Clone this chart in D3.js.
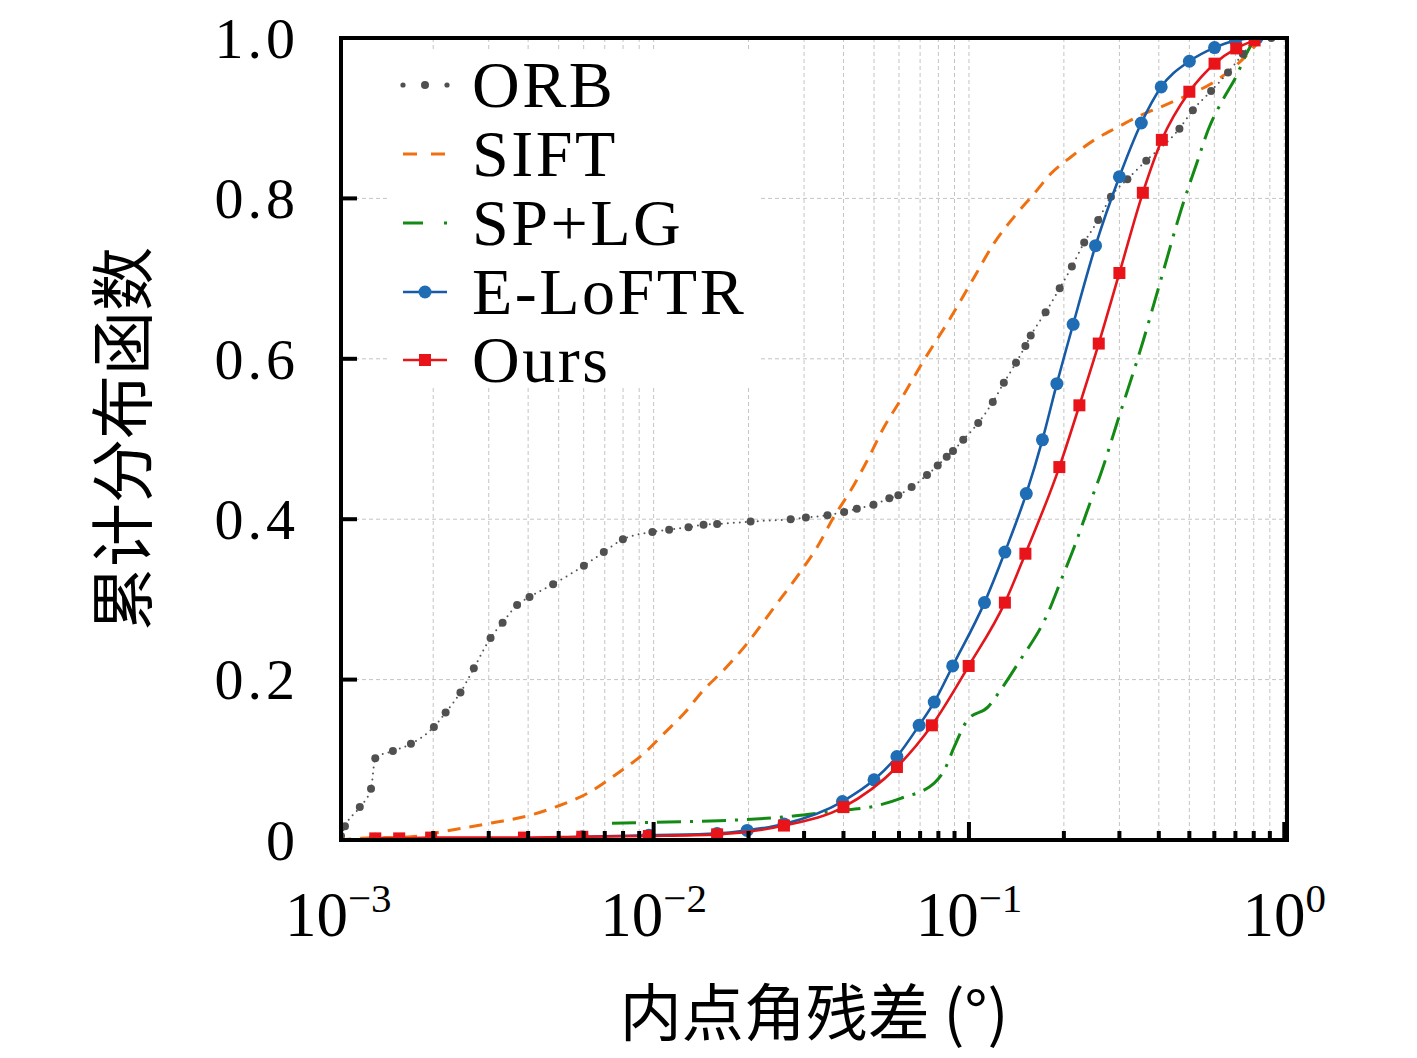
<!DOCTYPE html>
<html>
<head>
<meta charset="utf-8">
<script src="https://cdn.jsdelivr.net/npm/d3@7"></script>
<style>
  body { margin: 0; background: #fff; }
  .tick-label { font-family: "Liberation Serif", "DejaVu Serif", serif; fill: #000; }
  .cjk { font-family: "Noto Sans CJK SC", sans-serif; fill: #000; }
</style>
</head>
<body>
<script>
// series data: [inlier angle residual (deg), CDF]
var orb = [[0.00102,0.005],[0.00105,0.017],[0.00117,0.041],[0.00127,0.064],[0.00131,0.102],[0.00149,0.111],
  [0.00170,0.120],[0.00201,0.141],[0.00219,0.159],[0.00244,0.184],[0.00269,0.214],[0.00304,0.252],
  [0.00332,0.271],[0.00369,0.293],[0.00404,0.303],[0.00480,0.319],[0.00601,0.342],[0.00695,0.359],
  [0.00799,0.375],[0.00991,0.384],[0.0112,0.387],[0.0129,0.390],[0.0144,0.393],[0.0159,0.394],
  [0.0203,0.397],[0.0272,0.400],[0.0304,0.402],[0.0356,0.405],[0.0402,0.409],[0.0441,0.413],
  [0.0498,0.418],[0.0559,0.426],[0.0597,0.430],[0.0658,0.440],[0.0736,0.455],[0.0796,0.467],
  [0.0850,0.478],[0.0890,0.485],[0.0959,0.499],[0.107,0.520],[0.119,0.546],[0.129,0.570],
  [0.141,0.595],[0.151,0.616],[0.157,0.629],[0.175,0.658],[0.194,0.688],[0.212,0.715],
  [0.232,0.745],[0.257,0.773],[0.282,0.802],[0.318,0.824],[0.365,0.847],[0.465,0.887],
  [0.513,0.910],[0.586,0.934],[0.663,0.957],[0.739,0.980],[0.815,0.998],[0.91,1.0]];

var sift = [[0.00100,0.0],[0.00117,0.002],[0.00170,0.004],[0.00211,0.010],[0.00304,0.021],[0.00407,0.031],
  [0.00495,0.042],[0.00616,0.058],[0.00767,0.083],[0.00932,0.108],[0.0108,0.133],[0.0125,0.158],
  [0.0144,0.187],[0.0167,0.212],[0.0196,0.243],[0.0240,0.289],[0.0293,0.335],[0.0331,0.366],
  [0.0373,0.403],[0.0422,0.436],[0.0477,0.474],[0.0538,0.515],[0.0608,0.549],[0.0704,0.592],
  [0.0877,0.652],[0.104,0.702],[0.120,0.744],[0.139,0.777],[0.161,0.806],[0.182,0.831],
  [0.211,0.852],[0.250,0.873],[0.297,0.889],[0.352,0.904],[0.417,0.916],[0.483,0.927],
  [0.586,0.943],[0.70,0.965],[0.85,1.0]];

var spLg = [[0.00738,0.021],[0.0111,0.0225],[0.0161,0.024],[0.0278,0.030],[0.0373,0.036],[0.0500,0.042],
  [0.0608,0.052],[0.0776,0.071],[0.0835,0.087],[0.0898,0.116],[0.0991,0.150],[0.115,0.166],
  [0.126,0.187],[0.143,0.220],[0.178,0.283],[0.196,0.324],[0.216,0.366],[0.244,0.424],
  [0.262,0.457],[0.297,0.524],[0.356,0.621],[0.407,0.700],[0.471,0.786],[0.532,0.848],
  [0.573,0.885],[0.647,0.927],[0.695,0.948],[0.786,0.991],[0.821,1.0]];

var eLoftr = [[0.00131,0.001],[0.00197,0.001],[0.00388,0.002],[0.00594,0.004],[0.00966,0.006],[0.0159,0.008],
  [0.0198,0.012],[0.0259,0.020],[0.0397,0.048],[0.0500,0.075],[0.0591,0.104],[0.0695,0.143],
  [0.0776,0.172],[0.0888,0.217],[0.112,0.296],[0.130,0.359],[0.152,0.432],[0.171,0.499],
  [0.190,0.569],[0.214,0.643],[0.252,0.741],[0.300,0.827],[0.352,0.894],[0.407,0.939],
  [0.500,0.971],[0.601,0.988],[0.70,0.997],[0.82,1.0]];

var ours = [[0.00131,0.002],[0.00156,0.002],[0.00197,0.003],[0.00388,0.003],[0.00594,0.004],[0.00966,0.005],
  [0.0159,0.007],[0.0259,0.018],[0.0400,0.041],[0.0591,0.091],[0.0763,0.143],[0.0998,0.217],
  [0.130,0.296],[0.151,0.357],[0.1935,0.465],[0.224,0.542],[0.258,0.619],[0.300,0.707],
  [0.356,0.807],[0.409,0.873],[0.500,0.933],[0.601,0.968],[0.704,0.987],[0.805,0.997]];

var legendNames = ["ORB", "SIFT", "SP+LG", "E-LoFTR", "Ours"];
var yTicks = [0, 0.2, 0.4, 0.6, 0.8, 1.0];
var yTickLabels = ["0", "0.2", "0.4", "0.6", "0.8", "1.0"];
var xDecades = [-3, -2, -1, 0];

drawChart();

function drawChart(){
  var width = 1417, height = 1058;
  var pL = 341, pR = 1287, pT = 38, pB = 840;

  var svg = d3.select("body").append("svg")
      .attr("width", width)
      .attr("height", height);

  var x = d3.scaleLog().domain([1.02e-3, 1.02]).range([pL, pR]);
  var y = d3.scaleLinear().domain([0, 1]).range([pB, pT]);

  // minor + major positions for every decade
  var xGrid = [];
  xDecades.forEach(function(e){
    for (var m = 1; m <= 9; m++) {
      var v = m * Math.pow(10, e);
      if (v >= 1.02e-3 && v <= 1.02) xGrid.push(v);
    }
  });

  svg.append("clipPath").attr("id", "plot")
    .append("rect").attr("x", pL).attr("y", pT)
    .attr("width", pR - pL).attr("height", pB - pT);

  // grid
  var grid = svg.append("g").attr("stroke", "#c4c4c4").attr("stroke-width", 1)
      .attr("stroke-dasharray", "4,3");
  grid.selectAll(".vg").data(xGrid).enter().append("line")
      .attr("x1", function(d){ return x(d); }).attr("x2", function(d){ return x(d); })
      .attr("y1", pT).attr("y2", pB);
  grid.selectAll(".hg").data([0.2, 0.4, 0.6, 0.8]).enter().append("line")
      .attr("x1", pL).attr("x2", pR)
      .attr("y1", function(d){ return y(d); }).attr("y2", function(d){ return y(d); });

  // legend background hides the grid
  svg.append("rect").attr("x", 390).attr("y", 52).attr("width", 368).attr("height", 333)
      .attr("fill", "#fff");

  var line = d3.line()
      .x(function(d){ return x(d[0]); })
      .y(function(d){ return y(d[1]); })
      .curve(d3.curveMonotoneX);

  var curves = svg.append("g").attr("clip-path", "url(#plot)");

  // SIFT
  curves.append("path").datum(sift).attr("d", line)
      .attr("fill", "none").attr("stroke", "#f07010").attr("stroke-width", 3)
      .attr("stroke-dasharray", "13,9");

  // SP+LG
  curves.append("path").datum(spLg).attr("d", line)
      .attr("fill", "none").attr("stroke", "#138a13").attr("stroke-width", 3)
      .attr("stroke-dasharray", "24,9,3,9");

  // ORB
  curves.append("path").datum(orb).attr("d", line)
      .attr("fill", "none").attr("stroke", "#555").attr("stroke-width", 2)
      .attr("stroke-linecap", "round").attr("stroke-dasharray", "0,6");
  curves.selectAll(".orb").data(orb).enter().append("circle")
      .attr("cx", function(d){ return x(d[0]); })
      .attr("cy", function(d){ return y(d[1]); })
      .attr("r", 4).attr("fill", "#505050");

  // E-LoFTR
  curves.append("path").datum(eLoftr).attr("d", line)
      .attr("fill", "none").attr("stroke", "#175aa6").attr("stroke-width", 2.6);
  curves.selectAll(".eloftr").data(eLoftr).enter().append("circle")
      .attr("cx", function(d){ return x(d[0]); })
      .attr("cy", function(d){ return y(d[1]); })
      .attr("r", 6.5).attr("fill", "#1f6db5");

  // Ours
  curves.append("path").datum(ours).attr("d", line)
      .attr("fill", "none").attr("stroke", "#e3161c").attr("stroke-width", 2.6);
  curves.selectAll(".ours").data(ours).enter().append("rect")
      .attr("x", function(d){ return x(d[0]) - 6; })
      .attr("y", function(d){ return y(d[1]) - 6; })
      .attr("width", 12).attr("height", 12).attr("fill", "#e8141a");

  // frame and inward ticks
  svg.append("rect").attr("x", pL).attr("y", pT)
      .attr("width", pR - pL).attr("height", pB - pT)
      .attr("fill", "none").attr("stroke", "#000").attr("stroke-width", 4);

  var ticks = svg.append("g").attr("stroke", "#000").attr("stroke-width", 4);
  ticks.selectAll(".xt").data(xGrid).enter().append("line")
      .attr("x1", function(d){ return x(d); }).attr("x2", function(d){ return x(d); })
      .attr("y1", pB)
      .attr("y2", function(d){
        var major = Math.abs(Math.log10(d) - Math.round(Math.log10(d))) < 1e-9;
        return pB - (major ? 18 : 9);
      });
  ticks.selectAll(".yt").data(yTicks.slice(1, 5)).enter().append("line")
      .attr("x1", pL).attr("x2", pL + 16)
      .attr("y1", function(d){ return y(d); }).attr("y2", function(d){ return y(d); });

  // y tick labels
  svg.selectAll(".ylab").data(yTicks).enter().append("text")
      .attr("class", "tick-label")
      .attr("x", 299).attr("y", function(d){ return y(d); })
      .attr("dy", "0.34em").attr("text-anchor", "end")
      .attr("font-size", 58).attr("letter-spacing", 4)
      .text(function(d, i){ return yTickLabels[i]; });

  // x tick labels, 10^e
  var xl = svg.selectAll(".xlab").data(xDecades).enter().append("text")
      .attr("class", "tick-label")
      .attr("x", function(d){ return x(Math.pow(10, d)); })
      .attr("y", 936).attr("text-anchor", "middle").attr("font-size", 63);
  xl.append("tspan").text("10");
  xl.append("tspan").attr("font-size", 41).attr("dy", -24)
      .text(function(d){ return d < 0 ? "\u2212" + (-d) : String(d); });

  // axis titles
  svg.append("text").attr("class", "cjk")
      .attr("x", (pL + pR) / 2).attr("y", 1036)
      .attr("text-anchor", "middle").attr("font-size", 62)
      .text("内点角残差 (°)");
  svg.append("text").attr("class", "cjk")
      .attr("transform", "translate(146," + ((pT + pB) / 2) + ") rotate(-90)")
      .attr("text-anchor", "middle").attr("font-size", 64)
      .text("累计分布函数");

  // legend
  var legend = svg.append("g");
  var rowY = [85, 154, 223, 292, 360];
  legendNames.forEach(function(name, i){
    var g = legend.append("g").attr("transform", "translate(0," + rowY[i] + ")");
    if (i === 0) {
      g.selectAll("circle").data([403, 425, 447]).enter().append("circle")
        .attr("cx", function(d){ return d; }).attr("cy", 0)
        .attr("r", function(d, j){ return j === 1 ? 4 : 2.6; }).attr("fill", "#505050");
    } else if (i === 1) {
      g.append("line").attr("x1", 403).attr("x2", 447).attr("y1", 0).attr("y2", 0)
        .attr("stroke", "#f07010").attr("stroke-width", 3).attr("stroke-dasharray", "14,14");
    } else if (i === 2) {
      g.append("line").attr("x1", 403).attr("x2", 448).attr("y1", 0).attr("y2", 0)
        .attr("stroke", "#138a13").attr("stroke-width", 3).attr("stroke-dasharray", "20,21,3,9");
    } else if (i === 3) {
      g.append("line").attr("x1", 403).attr("x2", 447).attr("y1", 0).attr("y2", 0)
        .attr("stroke", "#175aa6").attr("stroke-width", 2.6);
      g.append("circle").attr("cx", 425).attr("cy", 0).attr("r", 6.5).attr("fill", "#1f6db5");
    } else {
      g.append("line").attr("x1", 403).attr("x2", 447).attr("y1", 0).attr("y2", 0)
        .attr("stroke", "#e3161c").attr("stroke-width", 2.6);
      g.append("rect").attr("x", 419).attr("y", -6).attr("width", 12).attr("height", 12)
        .attr("fill", "#e8141a");
    }
    g.append("text").attr("class", "tick-label")
      .attr("x", 472).attr("y", 0).attr("dy", "0.34em")
      .attr("font-size", 66).attr("letter-spacing", 2.5)
      .text(name);
  });
}
</script>
</body>
</html>
